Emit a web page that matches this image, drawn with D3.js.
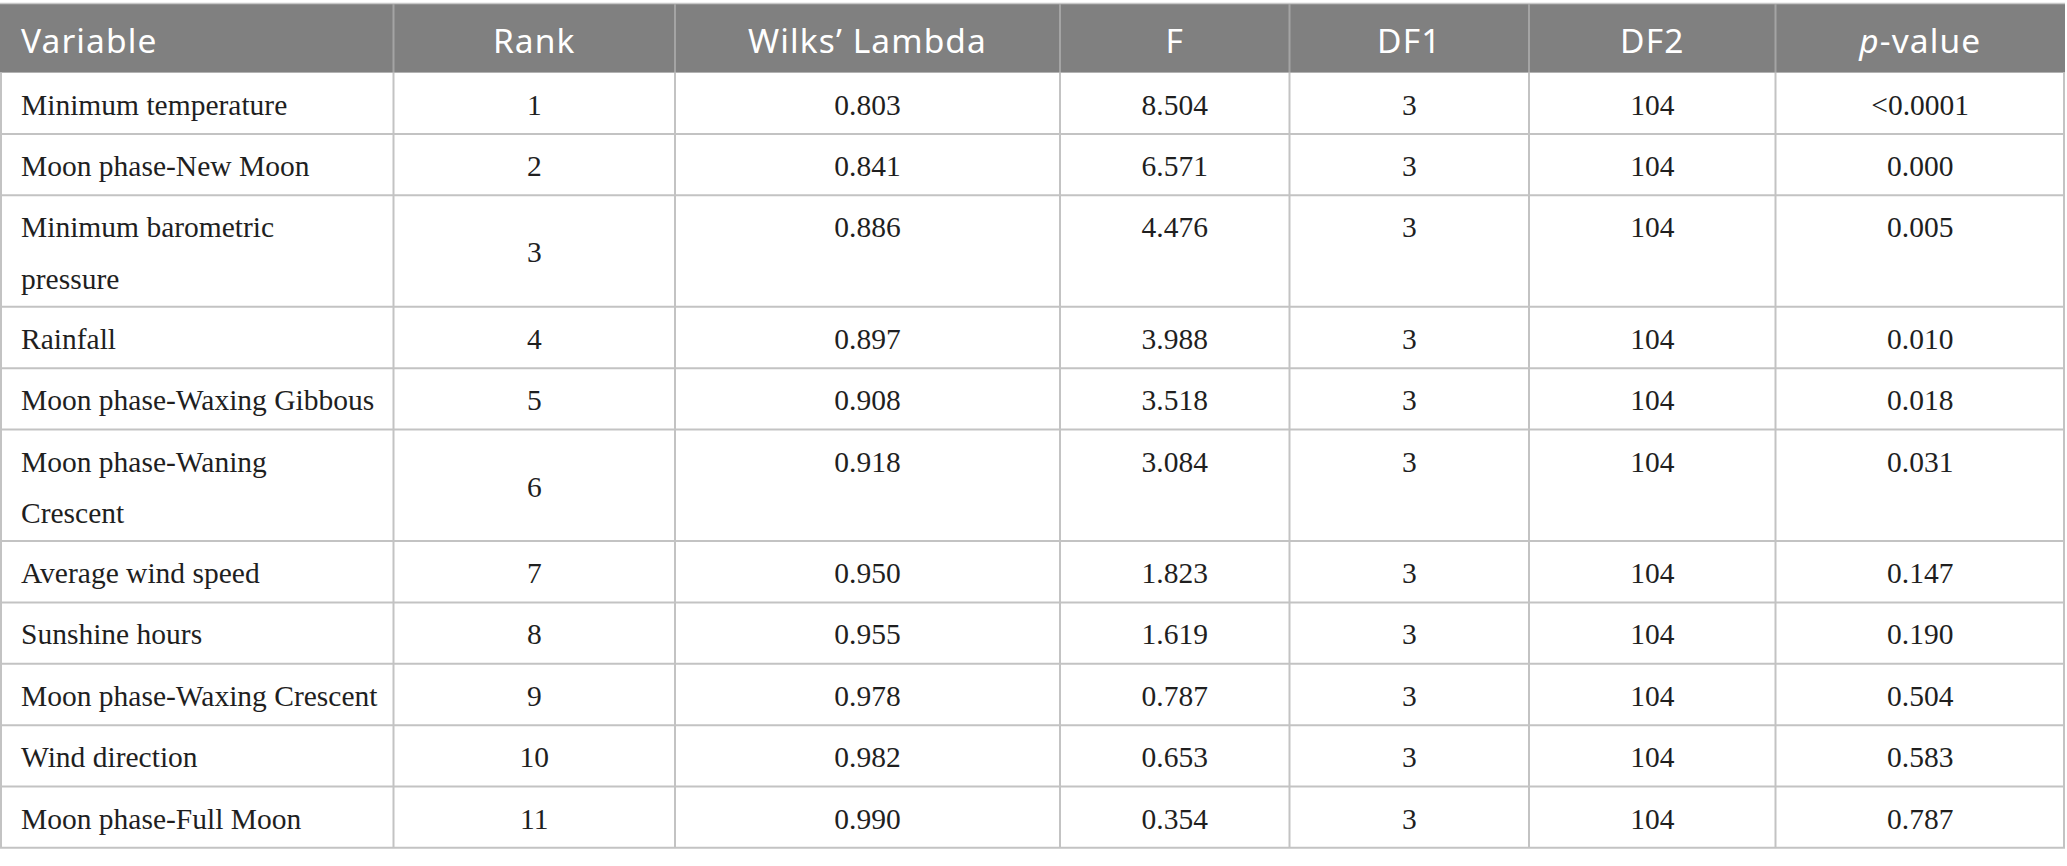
<!DOCTYPE html>
<html>
<head>
<meta charset="utf-8">
<script src="https://cdn.jsdelivr.net/npm/d3@7"></script>
<style>
  html, body { margin: 0; padding: 0; background: #fff; }
</style>
</head>
<body>
<div id="chart"></div>
<script>
var headers = ["Variable", "Rank", "Wilks\u2019 Lambda", "F", "DF1", "DF2", "p-value"];

// "\n" marks where the label wraps in the original table
var variables = [
  "Minimum temperature",
  "Moon phase-New Moon",
  "Minimum barometric\npressure",
  "Rainfall",
  "Moon phase-Waxing Gibbous",
  "Moon phase-Waning\nCrescent",
  "Average wind speed",
  "Sunshine hours",
  "Moon phase-Waxing Crescent",
  "Wind direction",
  "Moon phase-Full Moon"
];
var ranks = [1, 2, 3, 4, 5, 6, 7, 8, 9, 10, 11];
var wilks = [0.803, 0.841, 0.886, 0.897, 0.908, 0.918, 0.950, 0.955, 0.978, 0.982, 0.990];
var fValues = [8.504, 6.571, 4.476, 3.988, 3.518, 3.084, 1.823, 1.619, 0.787, 0.653, 0.354];
var df1 = [3, 3, 3, 3, 3, 3, 3, 3, 3, 3, 3];
var df2 = [104, 104, 104, 104, 104, 104, 104, 104, 104, 104, 104];
var pValues = ["<0.0001", "0.000", "0.005", "0.010", "0.018", "0.031", "0.147", "0.190", "0.504", "0.583", "0.787"];

var w = 2067, h = 866;
var colWidths = [393.5, 281.5, 385, 229.5, 239.5, 246.5, 289.5];
var tableTop = 4, headH = 68.6;
var rowH = 61.35, lineStep = 50.2;
var padLeft = 21;

var fmt3 = d3.format(".3f");

var svg = d3.select("#chart").append("svg")
  .attr("width", w)
  .attr("height", h)
  .style("display", "block");

// column edges from widths
var edges = [0].concat(Array.from(d3.cumsum(colWidths)));
var colX = d3.scaleOrdinal().domain(d3.range(7)).range(edges);
var colMid = function(i) { return colX(i) + colWidths[i] / 2; };

// rows
var rows = variables.map(function(v, i) {
  return {
    lines: v.split("\n"),
    cells: [null, String(ranks[i]), fmt3(wilks[i]), fmt3(fValues[i]), String(df1[i]), String(df2[i]), pValues[i]]
  };
});
var y0 = tableTop + headH;
rows.forEach(function(r) {
  r.h = rowH + lineStep * (r.lines.length - 1);
  r.top = y0;
  y0 += r.h;
});
var tableBottom = y0;
var tableRight = edges[edges.length - 1];

// header
svg.append("rect")
  .attr("x", 0).attr("y", tableTop)
  .attr("width", tableRight).attr("height", headH)
  .attr("fill", "#808080");

svg.append("line")
  .attr("x1", 0).attr("x2", tableRight)
  .attr("y1", tableTop - 0.5).attr("y2", tableTop - 0.5)
  .attr("stroke", "#c8c8c8").attr("stroke-width", 1.5);

svg.selectAll(".hdiv")
  .data(d3.range(1, 7))
  .enter().append("line")
  .attr("class", "hdiv")
  .attr("x1", function(i) { return colX(i); })
  .attr("x2", function(i) { return colX(i); })
  .attr("y1", tableTop).attr("y2", tableTop + headH)
  .attr("stroke", "#a4a4a4").attr("stroke-width", 2);

var head = svg.selectAll(".htext")
  .data(headers)
  .enter().append("text")
  .attr("class", "htext")
  .attr("x", function(d, i) { return i === 0 ? padLeft : colMid(i); })
  .attr("y", tableTop + 49.3)
  .attr("text-anchor", function(d, i) { return i === 0 ? "start" : "middle"; })
  .attr("fill", "#ffffff")
  .style("font-family", "'Noto Sans', 'Open Sans', sans-serif")
  .style("font-size", "33.5px")
  .style("letter-spacing", "1.1px");

head.each(function(d) {
  var t = d3.select(this);
  if (d === "p-value") {
    t.append("tspan").style("font-style", "italic").text("p");
    t.append("tspan").text("-value");
  } else {
    t.text(d);
  }
});

// body grid
svg.selectAll(".hline")
  .data(rows)
  .enter().append("line")
  .attr("class", "hline")
  .attr("x1", 0).attr("x2", tableRight)
  .attr("y1", function(d) { return d.top + d.h; })
  .attr("y2", function(d) { return d.top + d.h; })
  .attr("stroke", "#c3c3c3").attr("stroke-width", 2);

svg.selectAll(".vline")
  .data(d3.range(0, 8))
  .enter().append("line")
  .attr("class", "vline")
  .attr("x1", function(i) { return i === 7 ? tableRight - 1 : (i === 0 ? 1 : colX(i)); })
  .attr("x2", function(i) { return i === 7 ? tableRight - 1 : (i === 0 ? 1 : colX(i)); })
  .attr("y1", tableTop + headH).attr("y2", tableBottom)
  .attr("stroke", "#c3c3c3").attr("stroke-width", 2);

// body text
var bodyFont = "'Liberation Serif', 'Times New Roman', serif";

var rowG = svg.selectAll(".row")
  .data(rows)
  .enter().append("g")
  .attr("class", "row")
  .attr("transform", function(d) { return "translate(0," + d.top + ")"; });

rowG.append("text")
  .attr("x", padLeft)
  .attr("fill", "#1f1f1f")
  .style("font-family", bodyFont)
  .style("font-size", "29.5px")
  .selectAll("tspan")
  .data(function(d) { return d.lines; })
  .enter().append("tspan")
  .attr("x", padLeft)
  .attr("y", function(d, i) { return 42 + i * 51.5; })
  .text(function(d) { return d; });

rowG.selectAll(".cell")
  .data(function(d) {
    return d.cells.map(function(c, i) { return { v: c, col: i, row: d }; }).filter(function(c) { return c.col > 0; });
  })
  .enter().append("text")
  .attr("class", "cell")
  .attr("x", function(c) { return colMid(c.col); })
  .attr("y", function(c) {
    // Rank is vertically centred, the other columns sit on the first line
    return c.col === 1 ? 42 + (c.row.h - rowH) / 2 : 42;
  })
  .attr("text-anchor", "middle")
  .attr("fill", "#1f1f1f")
  .style("font-family", bodyFont)
  .style("font-size", "29.5px")
  .text(function(c) { return c.v; });
</script>
</body>
</html>
